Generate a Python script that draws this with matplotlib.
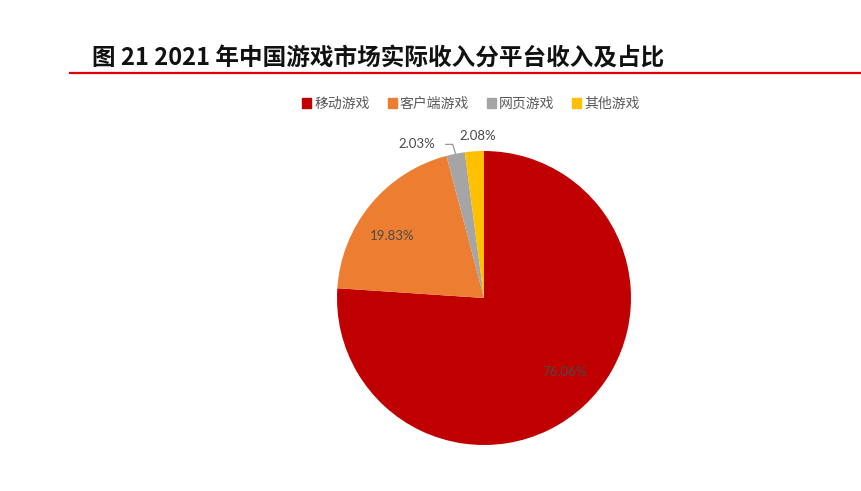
import matplotlib
matplotlib.use("Agg")
import matplotlib.pyplot as plt
import numpy as np

plt.rcParams['font.family'] = ['Noto Sans CJK SC', 'DejaVu Sans']

title = "图 21 2021 年中国游戏市场实际收入分平台收入及占比"
categories = ["移动游戏", "客户端游戏", "网页游戏", "其他游戏"]
shares = [76.06, 19.83, 2.03, 2.08]
colors = ["#C00000", "#ED7D31", "#A5A5A5", "#FFC000"]

W, H = 862, 491
fig = plt.figure(figsize=(W/100, H/100), dpi=100)

# title and rule
fig.text(92/W, 1-58/H, title, fontsize=17, fontweight='bold', color='#111111',
         ha='left', va='center')
fig.add_artist(plt.Line2D([70/W, 1.0], [1-73/H, 1-73/H], color='#E00000', lw=1.6))

# pie axes: center (484,298), radius 147
r = 147
ax = fig.add_axes([(484-r)/W, 1-(298+r)/H, 2*r/W, 2*r/H])
wedges, _ = ax.pie(shares, colors=colors, startangle=90, counterclock=False,
                   wedgeprops=dict(linewidth=0))
ax.set_xlim(-1, 1)
ax.set_ylim(-1, 1)
ax.set_aspect('equal')
ax.axis('off')

labels = [f"{v:.2f}%" for v in shares]
label_pos = [(0.55, -0.50), (-0.626, 0.42), (-0.46, 1.045), (-0.04, 1.10)]
lab_font = dict(fontsize=9.5, color='#4a4a4a', family=['Lato', 'DejaVu Sans'],
                ha='center', va='center', clip_on=False)
for i, (w, lab, (tx, ty)) in enumerate(zip(wedges, labels, label_pos)):
    ax.text(tx, ty, lab, **lab_font)
    if i == 2:
        mid = np.deg2rad((w.theta1 + w.theta2) / 2)
        ex, ey = np.cos(mid), np.sin(mid)
        ax.plot([tx+0.2, ex-0.02, ex], [ty, ty, ey], color='#999999', lw=0.9,
                clip_on=False)

# legend
handles = [plt.Rectangle((0, 0), 1, 1, color=c) for c in colors]
fig.legend(handles, categories, loc='center', bbox_to_anchor=(471/W, 1-104/H),
           ncol=4, frameon=False, fontsize=10, handlelength=0.65, handleheight=0.65,
           handletextpad=0.2, columnspacing=1.3, labelcolor='#595959')

fig.savefig("out.png", dpi=100)
